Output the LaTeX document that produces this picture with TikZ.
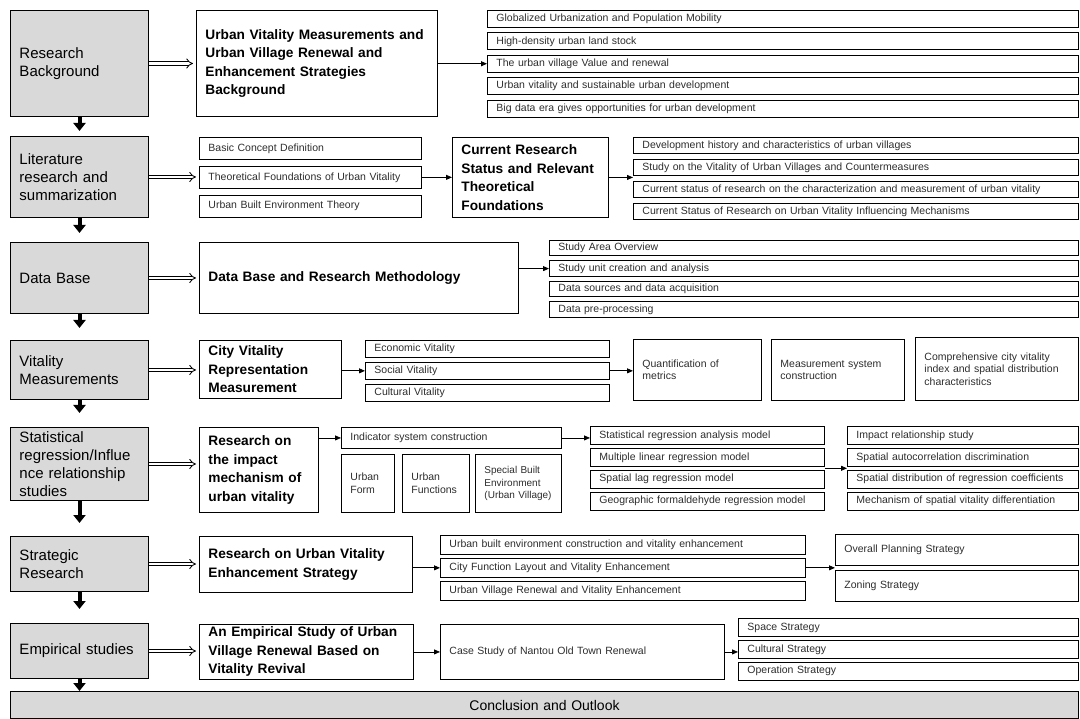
\documentclass[tikz,border=0pt]{standalone}
\usepackage{fontspec}
\setmainfont{Liberation Sans}
\usepackage{tikz}
\usetikzlibrary{arrows.meta,positioning,calc}
\definecolor{rvgray}{RGB}{217,217,217}
\definecolor{rvtext}{RGB}{45,45,45}
\tikzset{
  sz/.style 2 args={minimum width=#1pt, minimum height=#2pt, text width=#1pt-18pt},
  base/.style={rectangle, draw=black, anchor=north west, inner xsep=9pt, inner ysep=1pt, align=left},
  stage/.style={base, fill=rvgray, line width=1pt, font=\fontsize{15}{18}\selectfont},
  topic/.style={base, line width=0.9pt, font=\bfseries\fontsize{13.7}{18.5}\selectfont},
  item/.style={base, line width=0.9pt, text=rvtext, font=\fontsize{10.5}{12.5}\selectfont},
  hollow/.style={double, double distance=2.6pt, line width=0.85pt, -{Implies}, shorten >=3pt},
  link/.style={line width=0.8pt, -{Triangle[length=6pt,width=5pt]}},
  down/.style={line width=4pt, -{Triangle[length=8pt,width=12pt]}},
}

\begin{document}
\begin{tikzpicture}[x=1pt, y=-1pt]
\useasboundingbox (0,0) rectangle (1080,719);
% Research background
\node (rb) [stage, sz={138}{106}] at (10,10) {Research\\Background};
\node (rbt) [topic, sz={241}{106}] at (196,10) {Urban Vitality Measurements and\\Urban Village Renewal and\\Enhancement Strategies\\Background};
\node (bg1) [item, sz={591}{17}] at (487,10) {Globalized Urbanization and Population Mobility};
\node (bg2) [item, sz={591}{17}, below=4.5pt of bg1] {High-density urban land stock};
\node (bg3) [item, sz={591}{17}, below=4.5pt of bg2] {The urban village Value and renewal};
\node (bg4) [item, sz={591}{17}, below=4.5pt of bg3] {Urban vitality and sustainable urban development};
\node (bg5) [item, sz={591}{17}, below=4.5pt of bg4] {Big data era gives opportunities for urban development};

% Literature
\node (lit) [stage, sz={138}{81}] at (10,136) {Literature\\research and\\summarization};
\node (lt1) [item, sz={222}{22}] at (199,137) {Basic Concept Definition};
\node (lt2) [item, sz={222}{22}, below=6pt of lt1] {Theoretical Foundations of Urban Vitality};
\node (lt3) [item, sz={222}{22}, below=6pt of lt2] {Urban Built Environment Theory};
\node (cur) [topic, sz={156}{80}] at (452,137) {Current Research\\Status and Relevant\\Theoretical\\Foundations};
\node (lr1) [item, sz={445}{16.5}] at (633,137) {Development history and characteristics of urban villages};
\node (lr2) [item, sz={445}{16.5}, below=4.5pt of lr1] {Study on the Vitality of Urban Villages and Countermeasures};
\node (lr3) [item, sz={445}{16.5}, below=4.5pt of lr2] {Current status of research on the characterization and measurement of urban vitality};
\node (lr4) [item, sz={445}{16.5}, below=4.5pt of lr3] {Current Status of Research on Urban Vitality Influencing Mechanisms};

% Data base
\node (dbs) [stage, sz={138}{71}] at (10,242) {Data Base};
\node (dbt) [topic, sz={319}{71}] at (199,242) {Data Base and Research Methodology};
\node (dl1) [item, sz={529}{15.5}] at (549,240) {Study Area Overview};
\node (dl2) [item, sz={529}{15.5}, below=4pt of dl1] {Study unit creation and analysis};
\node (dl3) [item, sz={529}{15.5}, below=4pt of dl2] {Data sources and data acquisition};
\node (dl4) [item, sz={529}{15.5}, below=4pt of dl3] {Data pre-processing};

% Vitality measurements
\node (vms) [stage, sz={138}{59}] at (10,340) {Vitality\\Measurements};
\node (cvm) [topic, sz={142}{58}] at (199,340) {City Vitality\\Representation\\Measurement};
\node (vm1) [item, sz={244}{17}] at (365,340) {Economic Vitality};
\node (vm2) [item, sz={244}{17}, below=4pt of vm1] {Social Vitality};
\node (vm3) [item, sz={244}{17}, below=4pt of vm2] {Cultural Vitality};
\node (quant) [item, sz={128}{61}] at (633,339) {Quantification of\\metrics};
\node (msys) [item, sz={133}{61}] at (771,339) {Measurement system\\construction};
\node (comp) [item, sz={163}{63}] at (915,337) {Comprehensive city vitality\\index and spatial distribution\\characteristics};

% Statistical regression
\node (srs) [stage, sz={138}{73}] at (10,427) {Statistical\\regression/Influe\\nce relationship\\studies};
\node (imp) [topic, sz={119}{85}] at (199,427) {Research on\\the impact\\mechanism of\\urban vitality};
\node (ind) [item, sz={220}{21}] at (341,427) {Indicator system construction};
\node (uf) [item, sz={53}{58}] at (341,454) {Urban\\Form};
\node (ufn) [item, sz={67}{58}] at (402,454) {Urban\\Functions};
\node (sbe) [item, sz={86}{58}, font=\fontsize{10}{12.5}\selectfont] at (475,454) {Special Built\\Environment\\(Urban Village)};
\node (sr1) [item, sz={234}{18}] at (590,426) {Statistical regression analysis model};
\node (sr2) [item, sz={234}{18}, below=3pt of sr1] {Multiple linear regression model};
\node (sr3) [item, sz={234}{18}, below=3pt of sr2] {Spatial lag regression model};
\node (sr4) [item, sz={234}{18}, below=3pt of sr3] {Geographic formaldehyde regression model};
\node (rl1) [item, sz={231}{18}] at (847,426) {Impact relationship study};
\node (rl2) [item, sz={231}{18}, below=3pt of rl1] {Spatial autocorrelation discrimination};
\node (rl3) [item, sz={231}{18}, below=3pt of rl2] {Spatial distribution of regression coefficients};
\node (rl4) [item, sz={231}{18}, below=3pt of rl3] {Mechanism of spatial vitality differentiation};

% Strategy
\node (srg) [stage, sz={138}{55}] at (10,536) {Strategic\\Research};
\node (ruv) [topic, sz={213}{56}] at (199,536) {Research on Urban Vitality\\Enhancement Strategy};
\node (sl1) [item, sz={365}{19}] at (440,535) {Urban built environment construction and vitality enhancement};
\node (sl2) [item, sz={365}{19}, below=3pt of sl1] {City Function Layout and Vitality Enhancement};
\node (sl3) [item, sz={365}{19}, below=3pt of sl2] {Urban Village Renewal and Vitality Enhancement};
\node (ov) [item, sz={243}{31}] at (835,534) {Overall Planning Strategy};
\node (zo) [item, sz={243}{31}, below=4pt of ov] {Zoning Strategy};

% Empirical
\node (ems) [stage, sz={138}{55}] at (10,623) {Empirical studies};
\node (est) [topic, sz={214}{55}] at (199,624) {An Empirical Study of Urban\\Village Renewal Based on\\Vitality Revival};
\node (cs) [item, sz={284}{55}] at (440,624) {Case Study of Nantou Old Town Renewal};
\node (ol1) [item, sz={340}{18}] at (738,618) {Space Strategy};
\node (ol2) [item, sz={340}{18}, below=3pt of ol1] {Cultural Strategy};
\node (ol3) [item, sz={340}{18}, below=3pt of ol2] {Operation Strategy};

\node (con) [stage, sz={1068}{27}, align=center, font=\fontsize{14}{16}\selectfont] at (10,691) {Conclusion and Outlook};

% Arrows
\foreach \a/\b in {rb/rbt, lit/lt2, dbs/dbt, vms/cvm, srs/imp, srg/ruv, ems/est}
  \draw[hollow] (\a.east) -- (\a.east -| \b.west);
\foreach \a/\b/\s in {rb/lit/5pt, lit/dbs/9pt, dbs/vms/12pt, vms/srs/14pt, srs/srg/13pt, srg/ems/14pt, ems/con/0pt}
  \draw[down, shorten >=\s] (\a.south) -- (\a.south |- \b.north);
\draw[link] (rbt.east |- bg3.west) -- (bg3.west);
\draw[link] (lt2.east) -- (lt2.east -| cur.west);
\draw[link] (cur.east) -- (cur.east -| lr2.west);
\draw[link] (dbt.east |- dl2.west) -- (dl2.west);
\draw[link] (cvm.east |- vm2.west) -- (vm2.west);
\draw[link] (vm2.east) -- (vm2.east -| quant.west);
\draw[link] (imp.east |- ind.west) -- (ind.west);
\draw[link] (ind.east) -- (ind.east -| sr1.west);
\coordinate (srmid) at ($(sr2.south east)!0.5!(sr3.north east)$);
\draw[link] (srmid) -- (srmid -| rl1.west);
\draw[link] (ruv.east |- sl2.west) -- (sl2.west);
\draw[link] (sl2.east) -- (sl2.east -| ov.west);
\draw[link] (est.east) -- (est.east -| cs.west);
\draw[link] (cs.east) -- (cs.east -| ol2.west);
\end{tikzpicture}
\end{document}
